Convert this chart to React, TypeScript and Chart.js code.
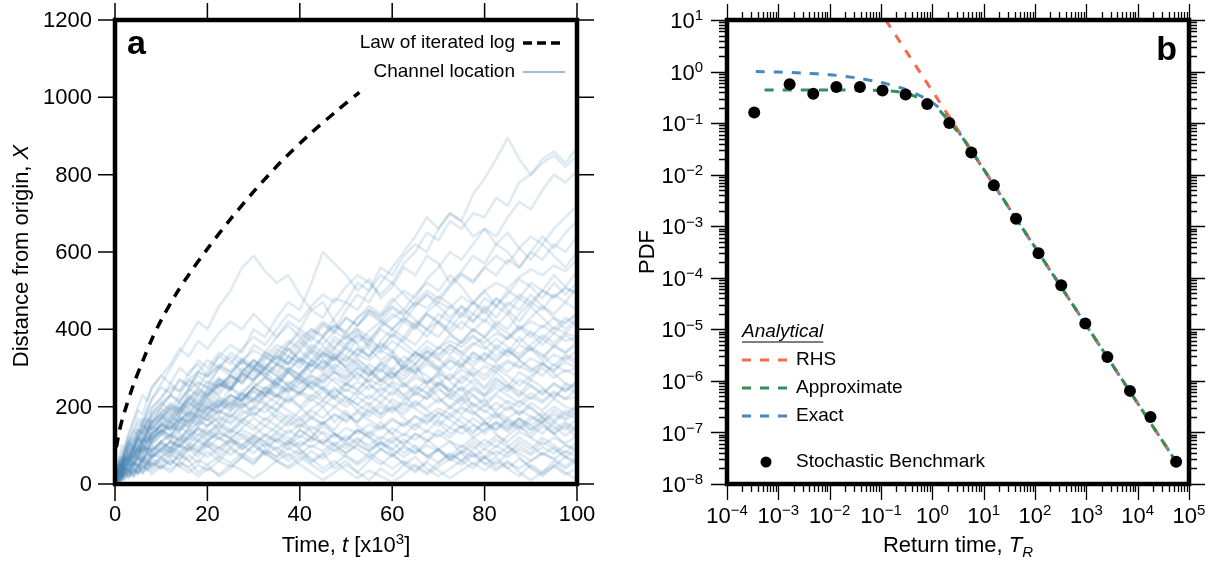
import React, { useEffect, useRef } from 'react';
import { Chart, registerables } from 'chart.js';

Chart.register(...registerables);

const FONT = '"Liberation Sans", Arial, Helvetica, sans-serif';

// ---------- Panel a : channel location random walks ----------
const WALK_T = [0, 0.5, 1, 1.5, 2, 3, 4, 5, 6, 7, 8, 10, 12, 14, 16, 18, 20, 22.5, 25, 27.5, 30, 32.5, 35, 37.5, 40, 42.5, 45, 47.5, 50, 52.5, 55, 57.5, 60, 62.5, 65, 67.5, 70, 72.5, 75, 77.5, 80, 82.5, 85, 87.5, 90, 92.5, 95, 97.5, 100];

const W1 = [0,30,20,45,60,90,70,110,130,120,150, 170,200,190,240,260,250, 300,330,310,360,340,380,420,400, 450,430,480,470,520,500,560,540, 590,620,600,660,700,680,750,790, 840,895,840,800,830,850,820,850];
const W2 = [0,25,50,40,70,60,100,90,120,140,110, 160,140,180,210,190,230, 260,240,290,320,300,340,310,360, 400,380,430,470,450,500,540,520, 570,600,650,630,680,660,700,690, 740,720,780,800,840,860,830,870];
const W3 = [0,40,30,60,80,110,140,120,160,180,200, 220,260,240,290,310,280, 330,360,340,400,380,430,470,450, 520,600,570,540,500,530,480,510, 560,540,590,570,520,550,590,570, 620,600,560,600,640,610,650,680];
const W4 = [0,20,50,70,60,100,130,160,150,190,220, 260,300,340,380,420,400, 460,500,560,590,550,520,540,490, 450,470,420,380,400,350,320,340, 290,310,260,280,230,250,200,220, 180,150,170,140,160,130,150,120];
const W5 = [0,15,30,20,45,70,50,80,100,90,120, 140,120,170,150,190,220, 200,250,230,270,300,280,320,300, 340,310,350,330,380,360,400,380, 420,400,440,420,460,430,470,440, 480,450,420,460,430,400,430,410];
const W6 = [0,10,25,40,30,55,40,70,60,90,80, 110,90,130,110,150,170, 140,180,160,200,230,210,250,230, 270,250,220,260,240,280,300,270, 310,290,330,300,270,310,280,250, 290,260,230,270,250,220,260,240];
const W7 = [0,20,10,30,15,40,25,50,30,60,45, 70,50,80,60,30,50, 20,40,70,50,90,70,110,90, 60,80,40,60,30,10,40,20, 50,30,60,90,70,100,80,50, 70,40,20,50,30,60,40,60];
const W8 = [0,35,20,50,70,60,90,120,100,140,160, 180,210,190,230,210,250, 230,270,300,280,320,350,330,370, 340,380,410,390,430,460,440,480, 450,490,520,500,540,510,470,500, 460,490,530,510,480,520,490,520];
const W9 = [0,20,40,30,55,80,100,90,120,110,140, 170,150,190,220,200,240, 270,250,290,320,300,340,370,350, 390,420,400,450,490,470,520,560, 600,640,690,660,700,680,640,660, 620,650,610,580,620,590,560,600];
const W10 = [0,25,45,35,60,50,85,70,100,120,100, 130,160,140,180,160,200, 180,220,200,240,210,190,230,200, 170,200,160,190,150,130,160,130, 100,130,110,140,120,150,130,160, 140,170,150,120,150,130,100,90];
const W11 = [0,10,30,50,40,70,90,80,110,130,150, 130,170,200,180,220,200, 240,280,260,300,280,250,290,270, 310,290,330,300,270,310,290,330, 300,340,320,290,320,300,340,320, 360,340,380,350,320,360,340,370];
const W12 = [0,15,5,25,40,30,55,45,70,60,90, 110,130,110,150,170,150, 190,170,210,190,230,260,240,280, 250,220,250,220,190,210,180,200, 170,150,180,160,130,150,120,140, 160,140,170,150,130,160,140,170];
const W13 = [0,30,55,45,75,100,90,130,150,140,180, 200,230,270,250,290,320, 300,340,320,290,330,310,350,320, 360,340,380,360,400,380,350,390, 370,410,380,420,400,440,420,460, 430,470,450,490,460,440,470,450];
const W14 = [0,5,15,10,25,15,35,25,45,35,55, 40,65,45,75,55,85, 60,90,70,100,80,120,100,140, 120,160,140,180,160,200,180,220, 200,240,220,260,240,280,260,230, 270,250,290,270,310,290,330,310];
const W15 = [0,40,25,55,80,110,90,130,160,140,180, 210,190,230,270,250,290, 330,310,350,380,360,400,440,420, 460,490,470,510,540,520,490,520, 490,460,490,460,430,460,420,450, 410,440,400,430,460,430,400,430];
const W16 = [0,15,35,25,50,70,60,90,75,100,85, 110,90,120,100,130,110, 140,120,90,110,80,60,80,50, 30,10,30,50,30,60,90,70, 100,80,110,130,110,80,100,70, 40,60,30,10,30,50,30,10];
const W17 = [0,20,40,60,50,75,95,120,140,160,140, 170,200,180,220,250,230, 270,250,220,250,230,270,300,280, 320,300,340,320,350,330,370,400, 380,420,400,440,420,460,440,480, 460,500,480,520,500,540,510,550];
const W18 = [0,25,10,35,55,45,70,90,80,110,130, 150,180,160,200,230,210, 250,280,260,300,330,310,350,320, 290,320,290,260,290,260,230,260, 230,200,230,260,240,270,300,280, 310,290,320,300,280,310,290,300];
const W19 = [0,10,25,15,35,55,45,65,55,80,70, 90,110,95,120,140,120, 150,130,160,140,170,150,180,160, 190,170,200,180,160,190,170,200, 180,210,190,170,200,180,210,190, 170,200,180,210,190,220,200,190];
const W20 = [0,45,70,60,95,130,160,190,180,220,250, 280,310,350,330,370,350, 390,420,400,440,410,380,410,380, 350,380,350,390,360,330,360,340, 380,360,400,380,420,400,440,420, 460,440,480,460,500,480,510,490];
const W21 = [0,5,20,10,30,20,40,30,55,45,65, 50,75,60,90,70,100, 80,110,90,120,100,130,110,140, 120,150,130,110,140,120,90,110, 80,100,70,90,60,80,50,70, 100,80,110,90,120,100,80,110];
const W22 = [0,30,50,40,70,95,120,110,140,170,160, 200,230,210,250,280,260, 300,280,320,300,340,320,360,390, 370,410,390,430,410,450,430,470, 500,480,530,560,600,580,620,660, 640,690,730,710,760,800,780,810];
const W23 = [0,20,35,25,45,65,55,80,100,90,115, 135,115,150,130,160,180, 160,190,210,180,200,170,150,170, 140,160,130,100,120,90,110,80, 50,70,40,20,40,60,40,70, 50,80,100,80,110,90,70,60];
const W24 = [0,15,30,45,35,60,80,70,95,85,110, 130,110,140,170,150,180, 210,190,220,250,230,260,240,270, 250,280,310,290,320,300,270,300, 280,310,340,320,350,330,360,380, 350,380,410,390,360,390,370,380];
const W25 = [0,10,5,20,12,30,20,40,30,50,40, 60,80,65,95,80,110, 135,115,145,170,150,180,160,190, 220,200,230,210,240,220,250,230, 260,240,270,250,220,250,230,200, 230,210,180,200,170,140,160,140];
const W26 = [0,35,60,50,80,110,100,140,130,165,155, 185,170,210,195,235,220, 260,245,285,270,310,290,330,310, 350,330,370,350,390,370,410,440, 420,460,490,470,510,540,520,560, 540,580,560,600,580,620,600,640];
const W27 = [0,25,40,55,45,70,90,115,105,135,160, 180,160,195,225,205,240, 270,250,285,265,300,330,310,345, 320,355,330,300,325,295,265,290, 260,230,255,225,195,220,190,160, 130,100,70,40,20,45,70,50];
const W28 = [0,20,10,35,25,50,75,65,95,85,115, 140,125,160,145,180,165, 200,230,215,250,235,270,300,285, 320,300,335,315,350,330,365,345, 310,340,320,355,335,370,400,380, 420,400,440,470,450,490,470,510];
const W29 = [0,8,18,10,22,35,25,45,60,50,70, 85,70,100,85,115,100, 70,95,75,100,130,110,140,120, 150,130,100,125,105,135,115,145, 125,155,135,165,145,175,155,130, 155,135,160,140,170,150,125,150];
const W30 = [0,40,70,100,90,130,165,200,230,215,250, 280,260,300,280,320,300, 340,320,290,320,290,260,290,260, 290,320,300,330,310,280,310,285, 255,285,260,290,265,240,270,245, 275,250,225,255,230,260,240,265];
const W31 = [0,30,15,45,70,60,90,80,110,140,125, 160,190,175,210,195,230, 260,245,280,310,295,330,310,345, 380,360,395,375,410,440,420,455, 435,470,500,480,515,545,525,560, 590,570,610,640,620,660,690,720];
const W32 = [0,12,25,15,30,20,38,28,48,38,55, 42,60,45,30,50,35, 60,45,70,55,80,60,40,60, 85,65,90,70,50,70,50,75, 55,35,55,35,15,35,55,35, 60,40,65,45,25,45,25,40];
const W33 = [0,18,35,28,50,75,65,95,115,105,130, 155,140,175,160,195,180, 215,200,235,215,250,230,265,245, 280,260,290,270,300,280,315,295, 330,310,345,325,295,325,305,335, 315,345,325,355,335,305,335,320];
const W34 = [0,30,55,45,80,105,95,125,150,140,170, 195,180,215,245,230,265, 250,285,315,300,340,325,360,400, 380,415,395,430,410,445,425,400, 430,405,440,415,390,420,395,425, 400,375,405,380,410,390,420,440];
const W35 = [0,15,30,22,40,30,55,45,65,80,70, 90,110,95,125,145,130, 160,140,170,150,125,150,130,155, 135,105,130,110,140,120,150,130, 160,140,170,150,180,160,135,160, 140,165,145,175,155,130,155,135];
const W36 = [0,22,12,32,48,38,58,78,68,90,80, 100,85,110,130,115,140, 120,95,120,100,75,95,70,90, 65,40,60,35,15,35,20,5, 25,50,30,55,80,60,90,115, 95,125,150,130,160,190,170,200];
const W37 = [0,20,35,50,40,65,85,75,100,120,110, 140,125,160,190,175,210, 195,230,215,250,275,255,290,270, 245,270,300,280,310,290,265,290, 270,300,280,255,285,260,290,270, 300,280,255,280,300,275,295,280];
const W38 = [0,12,28,20,38,55,45,68,58,80,95, 85,110,100,125,145,130, 155,135,165,185,165,190,170,150, 175,155,180,160,185,165,145,170, 150,175,155,185,165,145,170,150, 180,160,140,165,185,165,190,180];
const W39 = [0,35,60,85,75,110,140,170,160,195,220, 250,235,270,255,290,275, 310,290,325,305,280,310,290,325, 305,340,320,355,335,370,350,385, 365,340,370,350,385,365,400,380, 410,390,365,395,375,405,390,420];
const W40 = [0,18,8,28,20,35,25,45,35,55,45, 65,50,75,60,85,70, 95,75,100,80,105,85,60,80, 55,75,100,80,105,85,110,90, 115,95,70,90,65,85,110,90, 115,95,120,100,75,95,70,90];
const W41 = [0,25,15,40,30,55,75,65,90,80,105, 125,150,135,165,190,175, 205,230,215,250,275,260,295,280, 315,340,325,360,385,370,405,430, 450,425,400,420,390,365,385,355, 330,350,320,295,315,285,260,250];
const W42 = [0,15,30,22,42,35,58,50,72,65,88, 105,95,120,140,125,150, 170,155,180,200,185,210,190,170, 195,215,200,225,205,185,210,190, 215,235,220,245,225,205,230,210, 235,255,240,220,245,225,250,235];
const W43 = [0,28,45,38,60,85,110,100,125,150,140, 170,195,185,215,240,225, 255,280,265,295,275,305,330,315, 345,325,355,380,365,395,420,400, 430,410,445,470,455,485,465,500, 520,505,535,555,540,565,550,580];
const W44 = [0,10,22,15,30,22,40,30,50,38,25, 45,30,55,40,20,40, 25,50,35,15,35,60,45,70, 50,30,50,75,55,80,60,40, 60,45,25,45,65,50,75,55, 35,55,40,60,80,65,45,70];
const W45 = [0,20,40,30,55,45,70,95,85,110,125, 150,170,160,185,210,195, 225,210,240,260,245,275,255,285, 310,295,325,305,335,320,345,330, 300,325,345,330,360,340,365,350, 375,355,335,360,385,365,390,380];
const W46 = [0,30,50,70,60,90,115,140,130,160,185, 210,230,215,245,265,250, 275,260,290,270,300,280,255,280, 260,285,265,240,265,245,270,250, 230,255,235,210,235,215,245,225, 250,230,210,235,215,240,220,225];
const W47 = [0,8,20,30,22,40,32,50,42,60,52, 70,85,75,95,85,105, 90,115,100,125,110,135,120,100, 120,105,130,115,140,125,100,120, 105,130,115,90,110,95,120,100, 125,110,135,120,100,120,105,125];
const W48 = [0,40,65,55,90,120,110,145,170,160,195, 225,250,240,270,290,280, 305,290,320,345,330,360,345,375, 400,385,410,395,430,450,435,460, 440,470,455,485,465,440,470,450, 480,460,490,470,500,485,505,495];
const W49 = [0,15,28,40,32,50,68,60,80,95,88, 110,125,115,140,160,150, 175,160,190,175,205,190,220,200, 230,215,245,225,205,230,210,240, 220,250,235,265,245,225,250,230, 260,240,270,255,235,260,240,265];
const W50 = [0,25,40,30,50,65,85,100,90,115,130, 150,140,165,185,170,195, 215,200,230,210,240,225,255,235, 265,245,275,255,285,265,295,275, 305,290,320,300,330,310,340,320, 350,330,360,345,375,355,385,365];
const W51 = [0,10,20,32,25,42,55,48,65,58,75, 90,80,100,90,110,95, 120,105,130,115,95,115,100,125, 110,135,120,145,130,155,140,165, 150,175,160,185,170,195,180,205, 190,215,200,225,210,235,220,245];
const W52 = [0,32,50,65,58,80,100,120,110,135,150, 175,160,190,175,205,190, 220,205,235,220,250,230,210,235, 215,240,220,200,225,205,230,210, 190,215,195,220,200,225,205,185, 210,190,215,195,175,200,180,205];
const W53 = [0,20,10,28,40,32,52,45,65,55,75, 70,90,80,100,88,110, 95,115,100,125,108,90,110,95, 120,105,85,105,90,70,90,75, 95,80,100,85,65,85,70,90, 75,95,80,60,80,65,85,70];
const W54 = [0,38,55,48,70,95,85,115,140,130,160, 185,205,195,220,245,230, 260,245,275,300,285,310,295,325, 305,335,320,350,330,360,340,370, 350,330,355,335,360,340,315,340, 320,345,325,350,330,355,340,360];
const W55 = [0,12,25,18,35,28,45,38,58,50,68, 80,95,85,105,95,115, 130,120,140,125,150,135,160,145, 170,155,180,165,190,175,200,185, 210,195,175,195,180,200,185,165, 185,170,190,175,160,180,165,185];
const W56 = [0,28,45,60,52,75,92,85,108,125,118, 140,160,150,175,195,185, 205,195,220,240,225,250,235,260, 280,265,290,275,300,285,310,330, 315,340,325,350,370,355,380,365, 390,375,400,420,405,430,415,440];
const W57 = [0,18,32,25,42,35,55,70,62,80,72, 95,82,105,120,110,130, 115,140,125,105,125,110,90,110, 95,115,100,80,100,85,105,90, 70,90,75,55,75,60,80,65, 85,70,90,75,95,80,100,85];
const W58 = [0,22,38,50,44,62,78,92,85,105,120, 135,150,140,160,178,165, 190,175,200,220,205,230,215,240, 225,250,235,260,245,270,255,280, 300,285,310,295,320,305,330,315, 300,320,305,290,310,295,315,300];
const W59 = [0,14,6,20,12,26,18,34,26,42,34, 48,38,56,44,62,50, 70,55,78,62,85,70,92,78, 100,85,108,92,115,100,122,108, 130,115,138,122,145,130,152,138, 160,145,168,152,175,160,182,168];
const W60 = [0,30,48,40,62,80,72,96,118,108,132, 155,145,170,160,185,200, 185,210,195,220,240,225,250,235, 260,245,225,245,230,255,240,265, 250,275,260,285,270,295,280,305, 290,315,300,325,310,335,320,345];

const WALKS = [W1, W2, W3, W4, W5, W6, W7, W8, W9, W10, W11, W12, W13, W14, W15, W16, W17, W18, W19, W20, W21, W22, W23, W24, W25, W26, W27, W28, W29, W30, W31, W32, W33, W34, W35, W36, W37, W38, W39, W40, W41, W42, W43, W44, W45, W46, W47, W48, W49, W50, W51, W52, W53, W54, W55, W56, W57, W58, W59, W60];

// Law of iterated log (dashed black)
const LIL_T = [0.3, 1, 2, 4, 6, 8, 10, 13, 16, 20, 25, 30, 36, 42, 48, 52.9];
const LIL_X = [95, 140, 184, 257, 318, 375, 424, 487, 542, 608, 685, 756, 834, 903, 965, 1013];

const A_X_TICKS = [0, 20, 40, 60, 80, 100];
const A_Y_TICKS = [0, 200, 400, 600, 800, 1000, 1200];

// ---------- Panel b : return time PDF ----------
const BENCH_T = [3.39e-4, 1.66e-3, 4.79e-3, 0.0135, 0.0389, 0.107, 0.302, 0.794, 2.14, 5.75, 15.8, 42.7, 117, 324, 955, 2570, 7080, 17800, 56200];
const BENCH_P = [0.16, 0.57, 0.37, 0.5, 0.5, 0.43, 0.36, 0.235, 0.1, 0.027, 0.0062, 0.0014, 3.0e-4, 7.2e-5, 1.3e-5, 2.9e-6, 6.4e-7, 2.0e-7, 2.7e-8];
const RHS_T = [0.123, 56200];
const RHS_P = [10, 2.7e-8];
const APPROX_T = [3.63e-4, 0.01, 0.1, 0.174, 0.316, 0.676, 1.35, 2.24, 3.72, 7.41, 56200];
const APPROX_P = [0.44, 0.44, 0.43, 0.417, 0.38, 0.28, 0.18, 0.1, 0.055, 0.02, 2.7e-8];
const EXACT_T = [3.63e-4, 1e-3, 3.16e-3, 0.01, 0.0316, 0.1, 0.251, 0.501, 1, 2.0, 3.98, 7.94, 56200];
const EXACT_P = [1.0, 0.977, 0.933, 0.871, 0.759, 0.617, 0.479, 0.363, 0.251, 0.138, 0.0501, 0.0178, 2.7e-8];

const B_X_EXPS = [-4, -3, -2, -1, 0, 1, 2, 3, 4, 5];
const B_Y_EXPS = [-8, -7, -6, -5, -4, -3, -2, -1, 0, 1];

const WALK_COLOR = 'rgba(70,130,180,0.17)';
const RED = '#F26B4E';
const GREEN = '#33905A';
const BLUE = '#4A87C2';

// ---------- text helpers ----------
type Run = { t: string; it?: boolean; b?: boolean; sup?: boolean; sub?: boolean };

function runFont(r: Run, size: number) {
  const s = r.sup || r.sub ? Math.round(size * 0.66) : size;
  return `${r.it ? 'italic ' : ''}${r.b ? 'bold ' : ''}${s}px ${FONT}`;
}

function drawRuns(ctx: CanvasRenderingContext2D, runs: Run[], x: number, y: number, size: number, align: 'left' | 'center' | 'right') {
  ctx.textBaseline = 'middle';
  ctx.textAlign = 'left';
  const widths = runs.map((r) => {
    ctx.font = runFont(r, size);
    return ctx.measureText(r.t).width;
  });
  const total = widths.reduce((a, b) => a + b, 0);
  let cx = align === 'left' ? x : align === 'center' ? x - total / 2 : x - total;
  runs.forEach((r, i) => {
    ctx.font = runFont(r, size);
    const dy = r.sup ? -size * 0.26 : r.sub ? size * 0.3 : 0;
    ctx.fillText(r.t, cx, y + dy);
    cx += widths[i];
  });
  return total;
}

function powRuns(e: number): Run[] {
  return [{ t: '10' }, { t: e < 0 ? '\u2212' + Math.abs(e) : String(e), sup: true }];
}

// ---------- plugins ----------
const leftDecor = {
  id: 'leftDecor',
  afterDraw(chart: any) {
    const { ctx, chartArea: a, scales } = chart;
    const x = scales.x;
    const y = scales.y;
    ctx.save();
    ctx.strokeStyle = '#000';
    ctx.lineWidth = 1.5;
    ctx.setLineDash([]);
    ctx.beginPath();
    for (const v of A_X_TICKS) {
      const px = x.getPixelForValue(v);
      ctx.moveTo(px, a.bottom);
      ctx.lineTo(px, a.bottom + 17);
      ctx.moveTo(px, a.top);
      ctx.lineTo(px, a.top - 17);
    }
    for (const v of A_Y_TICKS) {
      const py = y.getPixelForValue(v);
      ctx.moveTo(a.left, py);
      ctx.lineTo(a.left - 17, py);
      ctx.moveTo(a.right, py);
      ctx.lineTo(a.right + 17, py);
    }
    ctx.stroke();
    ctx.lineWidth = 4.5;
    ctx.strokeRect(a.left, a.top, a.right - a.left, a.bottom - a.top);

    ctx.fillStyle = '#000';
    // tick labels
    for (const v of A_X_TICKS) drawRuns(ctx, [{ t: String(v) }], x.getPixelForValue(v), 515, 22, 'center');
    for (const v of A_Y_TICKS) drawRuns(ctx, [{ t: String(v) }], a.left - 23, y.getPixelForValue(v) + 1, 22, 'right');

    // axis titles
    drawRuns(ctx, [{ t: 'Time, ' }, { t: 't', it: true }, { t: ' [x10' }, { t: '3', sup: true }, { t: ']' }], (a.left + a.right) / 2, 546, 22, 'center');
    ctx.save();
    ctx.translate(22, (a.top + a.bottom) / 2 + 4);
    ctx.rotate(-Math.PI / 2);
    drawRuns(ctx, [{ t: 'Distance from origin, ' }, { t: 'X', it: true }], 0, 0, 22, 'center');
    ctx.restore();

    // panel letter
    ctx.font = `bold 34px ${FONT}`;
    ctx.textAlign = 'left';
    ctx.textBaseline = 'alphabetic';
    ctx.fillText('a', a.left + 12, 54);

    // legend
    ctx.font = `19px ${FONT}`;
    ctx.textAlign = 'right';
    ctx.textBaseline = 'middle';
    ctx.fillText('Law of iterated log', 515, 43);
    ctx.fillText('Channel location', 515, 72);
    ctx.beginPath();
    ctx.setLineDash([9, 5]);
    ctx.lineWidth = 3.5;
    ctx.strokeStyle = '#000';
    ctx.moveTo(523, 43);
    ctx.lineTo(565, 43);
    ctx.stroke();
    ctx.setLineDash([]);
    ctx.beginPath();
    ctx.lineWidth = 1.6;
    ctx.strokeStyle = 'rgba(70,130,180,0.7)';
    ctx.moveTo(523, 72);
    ctx.lineTo(565, 72);
    ctx.stroke();
    ctx.restore();
  },
};

const rightDecor = {
  id: 'rightDecor',
  afterDraw(chart: any) {
    const { ctx, chartArea: a, scales } = chart;
    const x = scales.x;
    const y = scales.y;
    ctx.save();
    ctx.strokeStyle = '#000';
    ctx.lineWidth = 1.3;
    ctx.setLineDash([]);
    ctx.beginPath();
    for (const k of B_X_EXPS) {
      for (let m = 1; m <= 9; m++) {
        const v = m * Math.pow(10, k);
        if (v > x.max * 1.0001) break;
        const px = Math.round(x.getPixelForValue(v)) + 0.5;
        const L = m === 1 ? 16 : 8;
        ctx.moveTo(px, a.bottom);
        ctx.lineTo(px, a.bottom + L);
        ctx.moveTo(px, a.top);
        ctx.lineTo(px, a.top - L);
      }
    }
    for (const k of B_Y_EXPS) {
      for (let m = 1; m <= 9; m++) {
        const v = m * Math.pow(10, k);
        if (v > y.max * 1.0001) break;
        const py = Math.round(y.getPixelForValue(v)) + 0.5;
        const L = m === 1 ? 16 : 8;
        ctx.moveTo(a.left, py);
        ctx.lineTo(a.left - L, py);
        ctx.moveTo(a.right, py);
        ctx.lineTo(a.right + L, py);
      }
    }
    ctx.stroke();
    ctx.lineWidth = 4.5;
    ctx.strokeRect(a.left, a.top, a.right - a.left, a.bottom - a.top);

    ctx.fillStyle = '#000';
    // tick labels
    for (const k of B_X_EXPS) {
      drawRuns(ctx, powRuns(k), x.getPixelForValue(Math.pow(10, k)), 517, 22, 'center');
    }
    for (const k of B_Y_EXPS) {
      drawRuns(ctx, powRuns(k), a.left - 24, y.getPixelForValue(Math.pow(10, k)) + 2, 22, 'right');
    }
    // titles
    drawRuns(ctx, [{ t: 'Return time, ' }, { t: 'T', it: true }, { t: 'R', it: true, sub: true }], (a.left + a.right) / 2, 546, 22, 'center');
    ctx.save();
    ctx.translate(40, (a.top + a.bottom) / 2);
    ctx.rotate(-Math.PI / 2);
    drawRuns(ctx, [{ t: 'PDF' }], 0, 0, 22, 'center');
    ctx.restore();

    // panel letter
    ctx.font = `bold 34px ${FONT}`;
    ctx.textAlign = 'right';
    ctx.textBaseline = 'alphabetic';
    ctx.fillText('b', a.right - 12, 60);

    // legend
    const lx = a.left + 15;
    ctx.font = `italic 19px ${FONT}`;
    ctx.textAlign = 'left';
    ctx.textBaseline = 'middle';
    ctx.fillText('Analytical', lx, 332);
    const uw = ctx.measureText('Analytical').width;
    ctx.lineWidth = 1.2;
    ctx.beginPath();
    ctx.moveTo(lx, 342);
    ctx.lineTo(lx + uw, 342);
    ctx.stroke();

    ctx.font = `19px ${FONT}`;
    const items = [
      { label: 'RHS', color: RED, y: 360 },
      { label: 'Approximate', color: GREEN, y: 388 },
      { label: 'Exact', color: BLUE, y: 416 },
    ];
    for (const it of items) {
      ctx.beginPath();
      ctx.setLineDash([9, 9]);
      ctx.lineWidth = 3;
      ctx.strokeStyle = it.color;
      ctx.moveTo(lx, it.y);
      ctx.lineTo(lx + 47, it.y);
      ctx.stroke();
      ctx.setLineDash([]);
      ctx.fillStyle = '#000';
      ctx.fillText(it.label, lx + 54, it.y);
    }
    ctx.beginPath();
    ctx.arc(lx + 24, 462, 5.5, 0, Math.PI * 2);
    ctx.fill();
    ctx.fillText('Stochastic Benchmark', lx + 54, 462);
    ctx.restore();
  },
};

function xy(ts: number[], vs: number[]) {
  return ts.map((t, i) => ({ x: t, y: vs[i] })).filter((p) => p.y !== undefined);
}

const hiddenAxis = {
  grid: { display: false, drawTicks: false },
  border: { display: false },
  ticks: { display: false },
};

function leftConfig(): any {
  const walkSets = WALKS.map((w) => ({
    data: xy(WALK_T, w),
    borderColor: WALK_COLOR,
    borderWidth: 2.6,
    borderJoinStyle: 'round',
    pointRadius: 0,
    tension: 0,
  }));
  const lil = {
    data: xy(LIL_T, LIL_X),
    borderColor: '#000',
    borderWidth: 3.5,
    borderDash: [10, 8],
    pointRadius: 0,
    tension: 0.3,
  };
  return {
    type: 'line',
    data: { datasets: [lil, ...walkSets] },
    options: {
      animation: false,
      responsive: false,
      devicePixelRatio: 1,
      events: [],
      layout: { padding: { top: 20, right: 31, bottom: 0, left: 0 } },
      plugins: { legend: { display: false }, tooltip: { enabled: false } },
      scales: {
        x: { type: 'linear', min: 0, max: 100, afterFit: (s: any) => { s.height = 80; }, ...hiddenAxis },
        y: { type: 'linear', min: 0, max: 1200, afterFit: (s: any) => { s.width = 115; }, ...hiddenAxis },
      },
    },
    plugins: [leftDecor],
  };
}

function rightConfig(): any {
  return {
    type: 'line',
    data: {
      datasets: [
        {
          data: xy(BENCH_T, BENCH_P),
          showLine: false,
          pointRadius: 6,
          pointBorderWidth: 0,
          pointBackgroundColor: '#000',
          borderColor: '#000',
        },
        {
          data: xy(APPROX_T, APPROX_P),
          borderColor: GREEN,
          borderWidth: 3,
          borderDash: [9, 9],
          borderDashOffset: 9,
          pointRadius: 0,
          tension: 0.2,
        },
        {
          data: xy(RHS_T, RHS_P),
          borderColor: RED,
          borderWidth: 3,
          borderDash: [9, 9],
          pointRadius: 0,
        },
        {
          data: xy(EXACT_T, EXACT_P),
          borderColor: BLUE,
          borderWidth: 3,
          borderDash: [9, 9],
          pointRadius: 0,
          tension: 0.2,
        },
      ],
    },
    options: {
      animation: false,
      responsive: false,
      devicePixelRatio: 1,
      events: [],
      layout: { padding: { top: 20, right: 27, bottom: 0, left: 0 } },
      plugins: { legend: { display: false }, tooltip: { enabled: false } },
      scales: {
        x: { type: 'logarithmic', min: 1e-4, max: 1e5, afterFit: (s: any) => { s.height = 80; }, ...hiddenAxis },
        y: { type: 'logarithmic', min: 1e-8, max: 10, afterFit: (s: any) => { s.width = 119; }, ...hiddenAxis },
      },
    },
    plugins: [rightDecor],
  };
}

export default function App() {
  const leftRef = useRef<HTMLCanvasElement | null>(null);
  const rightRef = useRef<HTMLCanvasElement | null>(null);
  useEffect(() => {
    const c1 = new Chart(leftRef.current as HTMLCanvasElement, leftConfig());
    const c2 = new Chart(rightRef.current as HTMLCanvasElement, rightConfig());
    return () => {
      c1.destroy();
      c2.destroy();
    };
  }, []);
  return (
    <div style={{ position: 'absolute', left: 0, top: 0, width: 1216, height: 564, background: '#fff' }}>
      <canvas ref={leftRef} width={608} height={564} style={{ position: 'absolute', left: 0, top: 0, width: 608, height: 564 }} />
      <canvas ref={rightRef} width={608} height={564} style={{ position: 'absolute', left: 608, top: 0, width: 608, height: 564 }} />
    </div>
  );
}
